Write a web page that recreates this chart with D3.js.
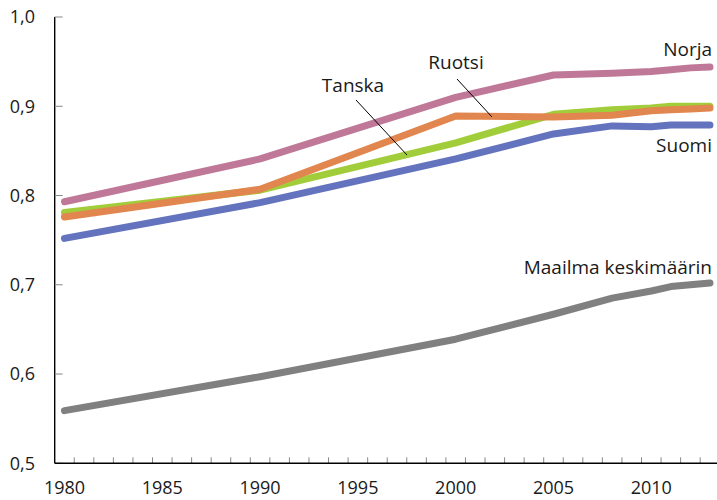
<!DOCTYPE html>
<html>
<head>
<meta charset="utf-8">
<script src="https://cdn.jsdelivr.net/npm/d3@7"></script>
<style>
  html, body { margin: 0; padding: 0; background: #fff; }
  svg { display: block; }
  text { font-family: "Open Sans", "Noto Sans", sans-serif; fill: #1a1a1a; }
</style>
</head>
<body>
<svg id="chart" width="717" height="500"></svg>
<script>
// ---- data ----
const years = [1980, 1990, 2000, 2005, 2008, 2010, 2011, 2012, 2013];
const norja   = [0.793, 0.841, 0.910, 0.935, 0.937, 0.939, 0.941, 0.943, 0.944];
const ruotsi  = [0.776, 0.807, 0.889, 0.888, 0.890, 0.895, 0.896, 0.897, 0.898];
const tanska  = [0.781, 0.806, 0.859, 0.891, 0.896, 0.898, 0.900, 0.900, 0.900];
const suomi   = [0.752, 0.792, 0.841, 0.869, 0.878, 0.877, 0.879, 0.879, 0.879];
const maailma = [0.559, 0.597, 0.639, 0.667, 0.685, 0.693, 0.698, 0.700, 0.702];
const seriesNames = ["Maailma keskimäärin", "Suomi", "Tanska", "Ruotsi", "Norja"];
const seriesValues = [maailma, suomi, tanska, ruotsi, norja];
const seriesColors = ["#808080", "#6473bd", "#a2cd3a", "#e2864f", "#bf7898"];
const allYears = d3.range(1980, 2014);
const xTickLabels = [1980, 1985, 1990, 1995, 2000, 2005, 2010];
const yTickValues = [0.5, 0.6, 0.7, 0.8, 0.9, 1.0];

// ---- layout ----
const svg = d3.select("#chart");
const left = 54.7, bw = 19.56;
const x = d3.scaleBand().domain(allYears).range([left, left + bw * allYears.length]).paddingInner(0).paddingOuter(0);
const y = d3.scaleLinear().domain([0.5, 1.0]).range([463.3, 17]);
const cx = yr => x(yr) + x.bandwidth() / 2;
const fmt = v => d3.format(".1f")(v).replace(".", ",");

// y axis
const yAxis = svg.append("g");
yAxis.append("line").attr("x1", left).attr("x2", left).attr("y1", y(1.0)).attr("y2", y(0.5))
  .attr("stroke", "#000").attr("stroke-width", 1.4);
yAxis.selectAll(".yt").data(yTickValues).enter().append("line")
  .attr("x1", left).attr("x2", left + 8).attr("y1", d => y(d)).attr("y2", d => y(d))
  .attr("stroke", "#888").attr("stroke-width", 1);
yAxis.selectAll(".yl").data(yTickValues).enter().append("text")
  .attr("x", 35).attr("y", d => y(d)).attr("dy", "0.35em").attr("text-anchor", "end")
  .attr("font-size", 18).text(fmt);

// x axis
const xAxis = svg.append("g");
xAxis.selectAll(".xt").data(allYears.slice(1)).enter().append("line")
  .attr("x1", d => x(d)).attr("x2", d => x(d)).attr("y1", y(0.5)).attr("y2", y(0.5) - 6)
  .attr("stroke", "#888").attr("stroke-width", 1);
xAxis.append("line").attr("x1", left).attr("x2", 717).attr("y1", y(0.5)).attr("y2", y(0.5))
  .attr("stroke", "#000").attr("stroke-width", 1.4);
xAxis.selectAll(".xl").data(xTickLabels).enter().append("text")
  .attr("x", d => cx(d)).attr("y", 494).attr("text-anchor", "middle")
  .attr("font-size", 18).text(d => d);

// lines
const line = d3.line().x((d, i) => cx(years[i])).y(d => y(d));
svg.selectAll(".series").data(seriesValues).enter().append("path")
  .attr("d", line).attr("fill", "none")
  .attr("stroke", (d, i) => seriesColors[i]).attr("stroke-width", 7)
  .attr("stroke-linecap", "round").attr("stroke-linejoin", "round");

// labels
const lab = (t, xx, yy, anchor) => svg.append("text").attr("x", xx).attr("y", yy)
  .attr("text-anchor", anchor).attr("font-size", 19).text(t);
lab("Norja", 712, 56, "end");
lab("Suomi", 712, 152, "end");
lab("Maailma keskimäärin", 712, 274, "end");
lab("Ruotsi", 456, 69, "middle");
lab("Tanska", 353, 92, "middle");
// leader lines
svg.append("line").attr("x1", 457).attr("y1", 79).attr("x2", 492).attr("y2", 117).attr("stroke", "#000").attr("stroke-width", 1);
svg.append("line").attr("x1", 356).attr("y1", 100).attr("x2", 407).attr("y2", 155).attr("stroke", "#000").attr("stroke-width", 1);
</script>
</body>
</html>
